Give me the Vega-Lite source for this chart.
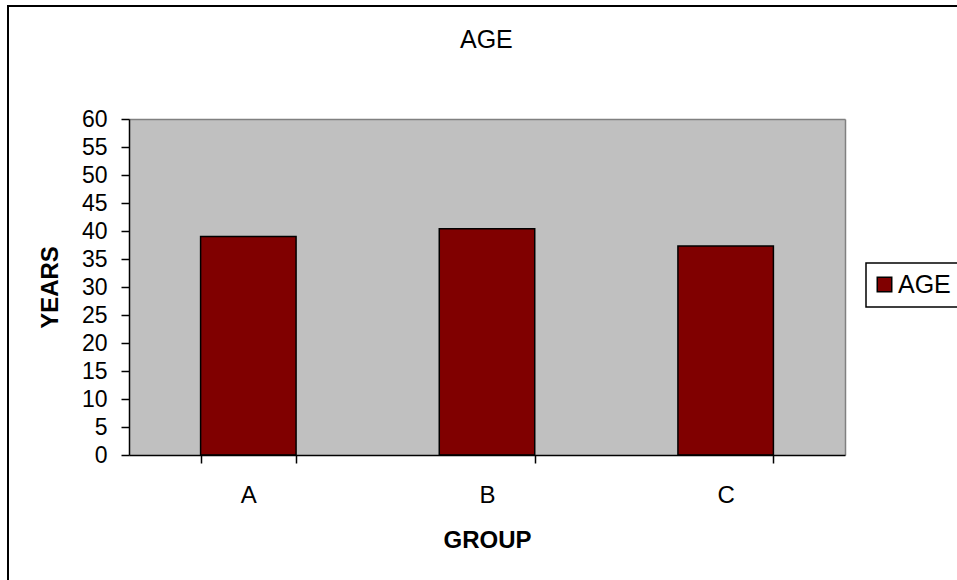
{
  "$schema": "https://vega.github.io/schema/vega-lite/v6.json",
  "width": 955,
  "height": 580,
  "autosize": {"type": "none"},
  "padding": {"left": 8, "top": 6, "right": -6, "bottom": -6},
  "background": "#ffffff",
  "title": {
    "text": "AGE",
    "frame": "group",
    "anchor": "start",
    "dx": 452,
    "offset": -67,
    "baseline": "alphabetic",
    "font": "Liberation Sans",
    "fontSize": 25,
    "fontWeight": "normal",
    "color": "#000000"
  },
  "data": {
    "values": [
      {"group": "A", "age": 39.0},
      {"group": "B", "age": 40.4},
      {"group": "C", "age": 37.3}
    ]
  },
  "layer": [
    {
      "mark": {"type": "bar", "opacity": 0},
      "encoding": {
        "x": {
          "field": "group",
          "type": "nominal",
          "scale": {"type": "band", "range": [121, 837], "paddingInner": 0.6, "paddingOuter": 0.3},
          "axis": {
            "orient": "top",
            "offset": -113,
            "domainColor": "#808080",
            "domainWidth": 1.5,
            "ticks": false,
            "labels": false,
            "grid": false,
            "title": null,
            "zindex": 0
          }
        },
        "y": {
          "field": "age",
          "type": "quantitative",
          "scale": {"domain": [0, 60], "range": [449, 113], "nice": false, "zero": true},
          "axis": {
            "orient": "left",
            "offset": 0,
            "domain": false,
            "ticks": false,
            "labels": false,
            "title": null,
            "values": [30],
            "grid": true,
            "gridColor": "#c0c0c0",
            "gridOpacity": 1,
            "gridWidth": 336,
            "zindex": 0
          }
        }
      }
    },
    {
      "mark": {"type": "bar", "opacity": 0},
      "encoding": {
        "x": {
          "field": "group",
          "type": "nominal",
          "scale": {"type": "band", "range": [121, 837], "paddingInner": 0.6, "paddingOuter": 0.3},
          "axis": null
        },
        "y": {
          "field": "age",
          "type": "quantitative",
          "scale": {"domain": [0, 60], "range": [449, 113], "nice": false, "zero": true},
          "axis": {
            "orient": "right",
            "offset": -118,
            "domainColor": "#808080",
            "domainWidth": 1.5,
            "ticks": false,
            "labels": false,
            "grid": false,
            "title": null,
            "zindex": 0
          }
        }
      }
    },
    {
      "mark": {"type": "bar", "stroke": "#000000", "strokeWidth": 1.5},
      "encoding": {
        "x": {
          "field": "group",
          "type": "nominal",
          "scale": {"type": "band", "range": [121, 837], "paddingInner": 0.6, "paddingOuter": 0.3},
          "axis": {
            "orient": "bottom",
            "offset": -131,
            "tickBand": "extent",
            "domainColor": "#000000",
            "domainWidth": 1.5,
            "tickColor": "#000000",
            "tickWidth": 1.5,
            "tickSize": 8,
            "labelAngle": 0,
            "labelFont": "Liberation Sans",
            "labelFontSize": 24,
            "labelColor": "#000000",
            "labelBaseline": "alphabetic",
            "labelPadding": 39,
            "grid": false,
            "title": "GROUP",
            "titleFont": "Liberation Sans",
            "titleFontSize": 24,
            "titleFontWeight": "bold",
            "titleColor": "#000000",
            "titleBaseline": "alphabetic",
            "titleX": 479,
            "titleY": 92,
            "zindex": 1
          }
        },
        "y": {
          "field": "age",
          "type": "quantitative",
          "scale": {"domain": [0, 60], "range": [449, 113], "nice": false, "zero": true},
          "axis": {
            "orient": "left",
            "offset": -121,
            "values": [0, 5, 10, 15, 20, 25, 30, 35, 40, 45, 50, 55, 60],
            "domainColor": "#000000",
            "domainWidth": 1.5,
            "tickColor": "#000000",
            "tickWidth": 1.5,
            "tickSize": 8,
            "labelFont": "Liberation Sans",
            "labelFontSize": 23,
            "labelColor": "#000000",
            "labelPadding": 14,
            "grid": false,
            "title": "YEARS",
            "titleFont": "Liberation Sans",
            "titleFontSize": 24,
            "titleFontWeight": "bold",
            "titleColor": "#000000",
            "titleBaseline": "alphabetic",
            "titleX": -72,
            "titleY": 281,
            "zindex": 1
          }
        },
        "color": {
          "datum": "AGE",
          "type": "nominal",
          "scale": {"domain": ["AGE"], "range": ["#800000"]},
          "legend": {
            "title": null,
            "orient": "none",
            "legendX": 858,
            "legendY": 257,
            "padding": 9,
            "strokeColor": "#000000",
            "fillColor": "#ffffff",
            "symbolType": "square",
            "symbolSize": 210,
            "symbolStrokeColor": "#000000",
            "symbolStrokeWidth": 1.5,
            "symbolOpacity": 1,
            "symbolOffset": -3,
            "labelFont": "Liberation Sans",
            "labelFontSize": 25,
            "labelColor": "#000000",
            "labelOffset": 1,
            "encode": {"symbols": {"update": {"stroke": {"value": "#000000"}, "strokeWidth": {"value": 1.5}}}}
          }
        }
      }
    }
  ],
  "resolve": {"axis": {"x": "independent", "y": "independent"}},
  "config": {
    "view": {"stroke": "#000000", "strokeWidth": 2, "fill": "#ffffff"},
    "legend": {"strokeWidth": 1.5}
  }
}
